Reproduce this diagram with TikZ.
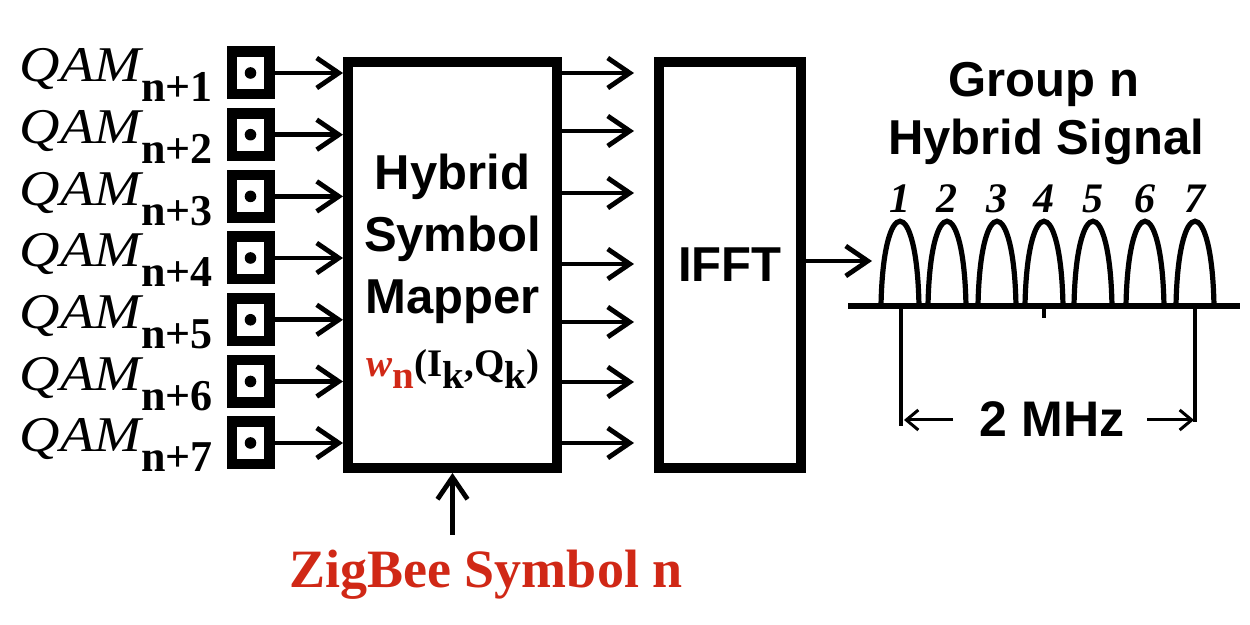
\documentclass[tikz,border=0pt]{standalone}
\usepackage{fontspec}
\setmainfont{Liberation Serif}
\setsansfont{Liberation Sans}
\usetikzlibrary{arrows.meta}
\definecolor{zred}{RGB}{208,40,22}
\begin{document}
\begin{tikzpicture}[x=0.5pt,y=-0.5pt,
  arr/.style={line width=2.4pt,-{Straight Barb[length=11pt,width=15pt]}},
  darr/.style={line width=1.5pt,-{Straight Barb[length=6pt,width=10pt]}},
  qsq/.style={draw,line width=5.25pt,minimum width=18.75pt,minimum height=21.25pt,inner sep=0pt},
  blk/.style={draw,line width=5pt,inner sep=0pt},
  qlab/.style={anchor=base east,inner sep=0pt},
  sflab/.style={font=\sffamily\bfseries\fontsize{24.5}{28}\selectfont,inner sep=0pt,anchor=base},
  numlab/.style={anchor=base,inner sep=0pt,font=\bfseries\itshape\fontsize{21}{24}\selectfont},
]
\path[use as bounding box] (0,0) rectangle (1250,625);

% blocks
\node[blk,minimum width=104.5pt,minimum height=203pt] (map) at (452.5,265) {};
\node[blk,minimum width=71pt,minimum height=203pt] (ifft) at (730,265) {};

% inputs
\foreach \i/\y in {1/73,2/134.7,3/196.4,4/258,5/319.8,6/381.5,7/443}{
  \node[qsq] (q\i) at (250.5,\y) {};
  \fill (q\i.center) circle (2.9pt);
  \node[qlab] (l\i) at (213,\y+9) {\fontsize{25}{28}\selectfont\scalebox{1.12}[1]{\itshape QAM}\raisebox{-10pt}{\bfseries\fontsize{22}{24}\selectfont n+\i}};
  \draw[arr] (q\i.east) -- (q\i.east -| map.west);
}

% outputs of mapper
\foreach \i/\y in {1/73,2/131,3/193,4/264,5/322,6/382,7/443}{
  \coordinate (o\i) at (634,\y);
  \draw[arr] (map.east |- o\i) -- (o\i);
}

% IFFT output
\coordinate (sig) at (872,261);
\draw[arr] (ifft.east |- sig) -- (sig);

% mapper text
\node[sflab] (t1) at (452.5,190) {Hybrid};
\node[sflab] (t2) at (452.5,252) {Symbol};
\node[sflab] (t3) at (452.5,314) {Mapper};
\node[anchor=base,inner sep=0pt] (t4) at (453,377) {\fontsize{19.5}{22}\selectfont\bfseries{\color{zred}\itshape w\raisebox{-6pt}{\upshape n}}(I\raisebox{-6pt}{k},Q\raisebox{-6pt}{k})};
\node[sflab] (t5) at (730,282) {IFFT};

% titles
\node[sflab] (g1) at (1044,97) {Group n};
\node[sflab] (g2) at (1046,155) {Hybrid Signal};

% spectrum
\draw[line width=3pt] (848,306) -- (1240,306);
\foreach \c/\n in {900/1,947/2,997/3,1044/4,1093/5,1145/6,1195/7}{
  \draw[line width=2.6pt] (\c-19,306) .. controls (\c-17,193) and (\c+17,193) .. (\c+19,306);
  \node[numlab] (n\n) at (\c,213) {\n};
}
\draw[line width=1.6pt] (901,306) -- (901,426);
\draw[line width=1.6pt] (1195,306) -- (1195,422);
\draw[line width=1.6pt] (1044,306) -- (1044,318);

\node[sflab,font=\sffamily\bfseries\fontsize{25}{30}\selectfont] (mhz) at (1052,437) {2 MHz};
\coordinate (la) at (953,420);
\coordinate (lb) at (904,420);
\coordinate (ra) at (1147,420);
\coordinate (rb) at (1194,420);
\draw[darr] (la) -- (lb);
\draw[darr] (ra) -- (rb);

% ZigBee
\node[anchor=base,inner sep=0pt,text=zred,font=\bfseries\fontsize{27}{32}\selectfont] (zig) at (486,588) {ZigBee Symbol n};
\coordinate (zb) at (452.5,535);
\draw[arr] (zb) -- (map.south);
\end{tikzpicture}
\end{document}
